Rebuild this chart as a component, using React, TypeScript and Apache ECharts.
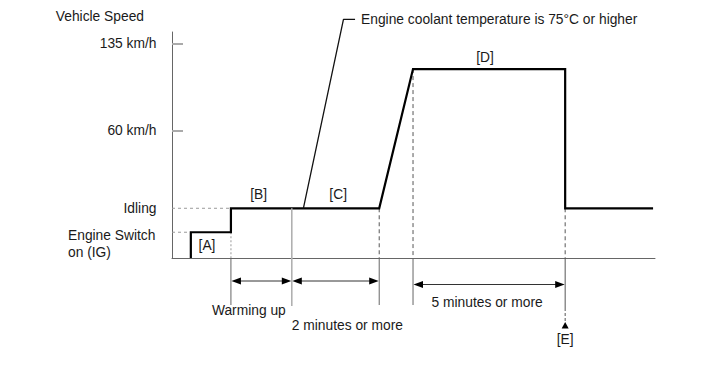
import React, { useEffect, useRef } from "react";
import * as echarts from "echarts";

const FONT = "'Liberation Sans', Arial, Helvetica, sans-serif";
const FS = 13.8;
const TXT = "#1a1a1a";

// Schematic vertical levels (0 = engine off)
const levelNames = ["Idling", "60 km/h", "135 km/h"];
const levelValues = [22, 56.2, 94.7];
const speedTickValues = [56.2, 94.7];
const engineSwitchLevel = 11.4;
const engineSwitchLabel = ["Engine Switch", "on (IG)"];

// Vehicle speed profile (schematic time, schematic speed)
const profileX = [3.9, 3.9, 12.2, 12.2, 42.9, 49.9, 81.4, 81.4, 99.6];
const profileY = [0, 11.4, 11.4, 22, 22, 83.6, 83.6, 22, 22];

// Phase labels
const phaseNames = ["[A]", "[B]", "[C]", "[D]"];
const phaseX = [7.25, 17.95, 34.4, 64.8];
const phaseY = [5.75, 28, 27.9, 88.9];

// Leader to the coolant-temperature note
const leaderX = [27.2, 35.5, 37.9];
const leaderY = [22, 105.6, 105.6];
const leaderText = "Engine coolant temperature is 75°C or higher";

// Reference (dashed) lines: [x1, y1, x2, y2]
const refHorizontal = [
  [0, 22, 12.2, 22],
  [0, 11.4, 3.9, 11.4],
];
const refVerticalLight = [[12.2, 11.4, 12.2, 0]];
const refVerticalDark = [
  [42.9, 22, 42.9, 0],
  [49.9, 83.6, 49.9, 0],
  [81.4, 22, 81.4, 0],
];

// Time intervals below the axis
const intervalStart = [12.2, 24.8, 49.9];
const intervalEnd = [24.8, 42.9, 81.4];
const intervalNames = ["Warming up", "2 minutes or more", "5 minutes or more"];

// Guides below the axis
const guideX = [12.2, 42.9, 49.9];
const warmEndX = 24.8;
const warmEndTop = 22;
const pointE = 81.4;
const pointELabel = "[E]";

function segSeries(segs: number[][], color: string, dash: number[], width: number) {
  return segs.map((s) => ({
    type: "line",
    data: [
      [s[0], s[1]],
      [s[2], s[3]],
    ],
    symbol: "none",
    silent: true,
    z: 2,
    lineStyle: { color, width, type: dash },
  }));
}

export default function App() {
  const ref = useRef<HTMLDivElement>(null);
  useEffect(() => {
    if (!ref.current) return;
    const chart = echarts.init(ref.current, undefined, { renderer: "svg" });

    const renderAnno = (params: any, api: any) => {
      const px = (x: number) => api.coord([x, 0])[0];
      const py = (y: number) => api.coord([0, y])[1];
      const baseY = py(0);
      const axisX = px(0);
      const children: any[] = [];
      const text = (t: string, x: number, y: number, align = "center") => ({
        type: "text",
        x,
        y,
        style: {
          text: t,
          fill: TXT,
          fontSize: FS,
          fontFamily: FONT,
          align,
          verticalAlign: "middle",
        },
      });
      const line = (x1: number, y1: number, x2: number, y2: number, stroke: string, lw = 1, dash?: number[]) => ({
        type: "line",
        shape: { x1, y1, x2, y2 },
        style: { stroke, lineWidth: lw, lineDash: dash },
      });
      // guides below axis
      guideX.forEach((g) => {
        const x = px(g);
        children.push(line(x, baseY, x, baseY + 47, "#666", 1));
      });
      const wx = px(warmEndX);
      children.push(line(wx, py(warmEndTop), wx, baseY + 48, "#b0b0b0", 1.6));
      // point E
      const ex = px(pointE);
      children.push(line(ex, baseY, ex, baseY + 50, "#555", 1));
      children.push(line(ex, baseY + 50, ex, baseY + 65, "#555", 1, [3, 2]));
      children.push({
        type: "polygon",
        shape: { points: [[ex, baseY + 64], [ex - 3.5, baseY + 70.5], [ex + 3.5, baseY + 70.5]] },
        style: { fill: "#000" },
      });
      children.push(text(pointELabel, ex, baseY + 81));
      // interval arrows
      const rows = [23, 23, 26.5];
      intervalStart.forEach((s, i) => {
        const x1 = px(s);
        const x2 = px(intervalEnd[i]);
        const y = baseY + rows[i];
        children.push(line(x1 + 8, y, x2 - 8, y, "#333", 1));
        children.push({
          type: "polygon",
          shape: { points: [[x1 + 0.5, y], [x1 + 10, y - 3.5], [x1 + 10, y + 3.5]] },
          style: { fill: "#000" },
        });
        children.push({
          type: "polygon",
          shape: { points: [[x2 - 0.5, y], [x2 - 10, y - 3.5], [x2 - 10, y + 3.5]] },
          style: { fill: "#000" },
        });
      });
      children.push(text(intervalNames[0], px(intervalStart[0]) - 19, baseY + 52, "left"));
      children.push(text(intervalNames[1], px(intervalStart[1]), baseY + 67, "left"));
      children.push(
        text(intervalNames[2], (px(intervalStart[2]) + px(intervalEnd[2])) / 2 - 2, baseY + 44.5)
      );
      // phase labels
      phaseNames.forEach((n, i) => children.push(text(n, px(phaseX[i]), py(phaseY[i]))));
      // leader note
      const lastI = leaderX.length - 1;
      children.push(text(leaderText, px(leaderX[lastI]) + 6, py(leaderY[lastI]), "left"));
      // engine switch label
      const ey = py(engineSwitchLevel);
      children.push(text(engineSwitchLabel[0], axisX - 104, ey + 3, "left"));
      children.push(text(engineSwitchLabel[1], axisX - 104, ey + 20, "left"));
      return { type: "group", children };
    };

    chart.setOption({
      animation: false,
      textStyle: { fontFamily: FONT },
      grid: { left: 172, right: 58, top: 32, bottom: 123 },
      xAxis: {
        type: "value",
        min: 0,
        max: 100,
        axisLine: { show: true, lineStyle: { color: "#666", width: 1 } },
        axisTick: { show: false },
        axisLabel: { show: false },
        splitLine: { show: false },
      },
      yAxis: {
        type: "value",
        min: 0,
        max: 100,
        name: "Vehicle Speed",
        nameLocation: "end",
        nameGap: 16,
        nameTextStyle: {
          fontSize: FS,
          color: TXT,
          fontFamily: FONT,
          align: "right",
          verticalAlign: "middle",
          padding: [0, 28, 0, 0],
        },
        axisLine: { show: true, lineStyle: { color: "#666", width: 1 } },
        axisTick: {
          show: true,
          inside: true,
          length: 11,
          customValues: speedTickValues,
          lineStyle: { color: "#aaa", width: 2 },
        },
        axisLabel: {
          show: true,
          customValues: levelValues,
          margin: 15.5,
          fontSize: FS,
          color: TXT,
          fontFamily: FONT,
          formatter: (v: number) => {
            const i = levelValues.findIndex((l) => Math.abs(l - v) < 1e-6);
            return i >= 0 ? levelNames[i] : "";
          },
        },
        splitLine: { show: false },
      },
      series: [
        ...segSeries(refHorizontal, "#9a9a9a", [3, 3], 1),
        ...segSeries(refVerticalLight, "#bbbbbb", [2, 2], 1.5),
        ...segSeries(refVerticalDark, "#555", [4, 3], 1),
        {
          type: "line",
          data: profileX.map((x, i) => [x, profileY[i]]),
          symbol: "none",
          silent: true,
          z: 5,
          lineStyle: { color: "#000", width: 2.2, join: "miter" },
        },
        {
          type: "line",
          data: leaderX.map((x, i) => [x, leaderY[i]]),
          symbol: "none",
          silent: true,
          clip: false,
          z: 5,
          lineStyle: { color: "#111", width: 1.3 },
        },
        {
          type: "custom",
          data: [[0, 0]],
          clip: false,
          silent: true,
          z: 6,
          renderItem: renderAnno,
        },
      ],
    });
    return () => chart.dispose();
  }, []);
  return (
    <div
      ref={ref}
      style={{ position: "absolute", left: 0, top: 0, width: 713, height: 381, background: "#fff" }}
    />
  );
}
